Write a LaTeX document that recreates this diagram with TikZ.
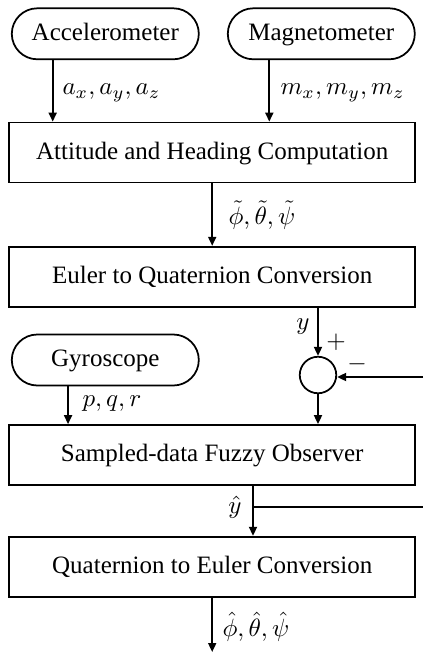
\documentclass[tikz,border=0pt]{standalone}
\usepackage{fontspec}
\setmainfont{Liberation Serif}
\usetikzlibrary{arrows.meta,shapes.misc}
\tikzset{
  blk/.style={draw,line width=0.7pt,minimum width=162.3pt,minimum height=24pt,inner sep=0pt,text height=1.6ex,text depth=0.45ex},
  snsr/.style={draw,line width=0.7pt,rounded rectangle,minimum width=74.8pt,minimum height=20.4pt,inner sep=0pt,text height=1.6ex,text depth=0.45ex},
  sumj/.style={draw,circle,line width=0.7pt,minimum size=14.6pt,inner sep=0pt},
  sig/.style={line width=0.7pt,-{Triangle[length=3.6pt,width=3.2pt]}},
  wire/.style={line width=0.7pt},
  slab/.style={inner sep=0pt}
}
\begin{document}
\begin{tikzpicture}[x=0.4pt,y=-0.4pt]
  \useasboundingbox (0,0) rectangle (423,653);
  % sensors
  \node[snsr] (acc) at (105.3,33.8) {Accelerometer};
  \node[snsr] (mag) at (321.3,33.8) {Magnetometer};
  \node[snsr] (gyro) at (105.3,360) {Gyroscope};
  % blocks
  \node[blk] (ahc) at (212.2,152.5) {Attitude and Heading Computation};
  \node[blk] (e2q) at (212.2,276.7) {Euler to Quaternion Conversion};
  \node[blk] (sof) at (212.2,455) {Sampled-data Fuzzy Observer};
  \node[blk] (q2e) at (212.2,566.7) {Quaternion to Euler Conversion};
  \node[sumj] (sum) at (318,375) {};
  % free ends
  \coordinate (fbin) at (423,377);
  \coordinate (br) at (253,507);
  \coordinate (fbout) at (423,507);
  \coordinate (out) at (212.2,652);
  % connectors
  \draw[sig] ([xshift=-21.04pt]acc.south) -- ([xshift=-21.04pt]acc.south |- ahc.north);
  \draw[sig] ([xshift=-20.8pt]mag.south) -- ([xshift=-20.8pt]mag.south |- ahc.north);
  \draw[sig] (ahc) -- (e2q);
  \draw[sig] (e2q.south -| sum) -- (sum.north);
  \draw[sig] (fbin) -- (fbin -| sum.east);
  \draw[sig] (sum.south) -- (sum |- sof.north);
  \draw[sig] ([xshift=-14.9pt]gyro.south) -- ([xshift=-14.9pt]gyro.south |- sof.north);
  \draw[sig] (sof.south -| br) -- (br |- q2e.north);
  \draw[wire] (br) -- (fbout);
  \draw[sig] (q2e) -- (out);
  % labels
  \node[slab,anchor=west] (lacc) at (62,93) {$a_x, a_y, a_z$};
  \node[slab,anchor=west] (lmag) at (280,93) {$m_x, m_y, m_z$};
  \node[slab,anchor=west] (ltil) at (228,215) {$\tilde{\phi}, \tilde{\theta}, \tilde{\psi}$};
  \node[slab] (ly) at (303,327) {$y$};
  \node[slab] (lp) at (336,342) {$+$};
  \node[slab] (lm) at (357,364) {$-$};
  \node[slab,anchor=west] (lgyro) at (82,404) {$p, q, r$};
  \node[slab] (lyh) at (235,507) {$\hat{y}$};
  \node[slab,anchor=west] (lhat) at (222,627) {$\hat{\phi}, \hat{\theta}, \hat{\psi}$};
\end{tikzpicture}
\end{document}
